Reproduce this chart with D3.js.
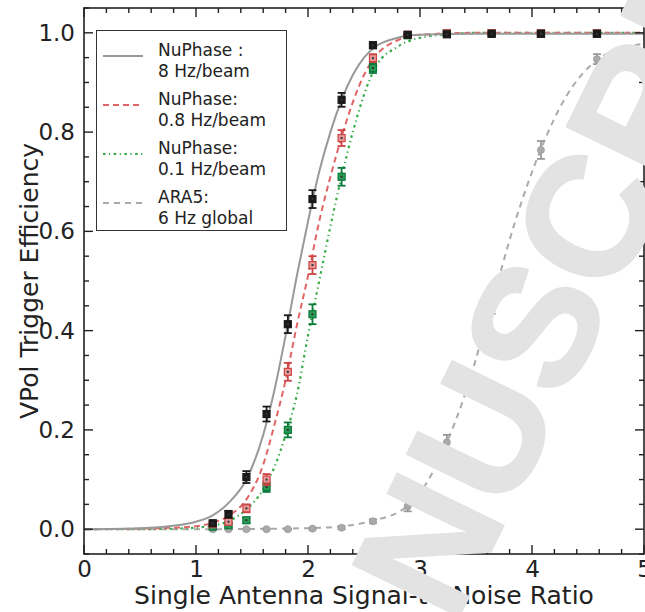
<!DOCTYPE html>
<html>
<head>
<meta charset="utf-8">
<script src="https://cdn.jsdelivr.net/npm/d3@7"></script>
<style>
  html, body { margin: 0; padding: 0; background: #fff; }
  svg { display: block; font-family: "DejaVu Sans", sans-serif; }
</style>
</head>
<body>
<svg id="chart" width="645" height="612"></svg>
<script>
// ---------- data ----------
const snr = [1.15, 1.29, 1.45, 1.63, 1.82, 2.04, 2.30, 2.58, 2.89, 3.24, 3.64, 4.08, 4.58];

const eff8Hz   = [0.012, 0.030, 0.105, 0.232, 0.413, 0.665, 0.865, 0.975, 0.996, 0.997, 0.998, 0.998, 0.998];
const err8Hz   = [0.004, 0.007, 0.012, 0.015, 0.018, 0.018, 0.014, 0.006, 0.002, 0.002, 0.002, 0.002, 0.002];
const eff08Hz  = [0.010, 0.015, 0.042, 0.100, 0.317, 0.532, 0.788, 0.949, 0.996, 0.999, 0.999, 0.999, 0.999];
const err08Hz  = [0.004, 0.005, 0.008, 0.011, 0.018, 0.018, 0.016, 0.008, 0.002, 0.002, 0.002, 0.002, 0.002];
const eff01Hz  = [0.005, 0.008, 0.018, 0.085, 0.200, 0.433, 0.710, 0.929, 0.995, 0.999, 0.999, 0.999, 0.999];
const err01Hz  = [0.003, 0.004, 0.005, 0.010, 0.015, 0.020, 0.018, 0.010, 0.003, 0.002, 0.002, 0.002, 0.002];
const effARA5  = [0.000, 0.000, 0.000, 0.000, 0.000, 0.001, 0.003, 0.016, 0.046, 0.175, 0.452, 0.764, 0.947];
const errARA5  = [0.001, 0.001, 0.001, 0.001, 0.001, 0.002, 0.003, 0.004, 0.010, 0.015, 0.018, 0.018, 0.010];

// fitted curves
const curveX8Hz  = [0, 0.5, 0.8, 1.0, 1.15, 1.3, 1.45, 1.6, 1.7, 1.8, 1.9, 2.0, 2.1, 2.2, 2.3, 2.4, 2.5, 2.6, 2.8, 3.0, 3.5, 5.0];
const curveY8Hz  = [0, 0.002, 0.007, 0.015, 0.028, 0.055, 0.100, 0.190, 0.280, 0.390, 0.510, 0.620, 0.720, 0.800, 0.865, 0.915, 0.950, 0.972, 0.990, 0.996, 0.998, 0.998];
const curveX08Hz = [0, 0.5, 0.8, 1.0, 1.15, 1.3, 1.45, 1.6, 1.7, 1.8, 1.9, 2.0, 2.1, 2.2, 2.3, 2.4, 2.5, 2.6, 2.8, 3.0, 3.5, 5.0];
const curveY08Hz = [0, 0.001, 0.003, 0.006, 0.013, 0.028, 0.060, 0.130, 0.210, 0.300, 0.410, 0.510, 0.620, 0.710, 0.790, 0.860, 0.915, 0.952, 0.985, 0.996, 1.000, 1.000];
const curveX01Hz = [0, 0.5, 0.8, 1.0, 1.15, 1.3, 1.45, 1.6, 1.7, 1.8, 1.9, 2.0, 2.1, 2.2, 2.3, 2.4, 2.5, 2.6, 2.8, 3.0, 3.3, 3.5, 5.0];
const curveY01Hz = [0, 0.000, 0.001, 0.003, 0.007, 0.017, 0.040, 0.080, 0.125, 0.190, 0.270, 0.390, 0.500, 0.610, 0.710, 0.800, 0.875, 0.930, 0.972, 0.990, 0.998, 1.000, 1.000];
const curveXARA5 = [0, 1.0, 2.0, 2.3, 2.58, 2.89, 3.05, 3.24, 3.4, 3.64, 3.85, 4.08, 4.3, 4.58, 4.8, 5.0];
const curveYARA5 = [0, 0.000, 0.002, 0.006, 0.017, 0.047, 0.090, 0.175, 0.270, 0.455, 0.620, 0.766, 0.870, 0.945, 0.968, 0.978];

const legendLabels = [["NuPhase :", "8 Hz/beam"], ["NuPhase:", "0.8 Hz/beam"], ["NuPhase:", "0.1 Hz/beam"], ["ARA5:", "6 Hz global"]];
const xTickLabels = [0, 1, 2, 3, 4, 5];
const yTickLabels = [0.0, 0.2, 0.4, 0.6, 0.8, 1.0];
const xTitle = "Single Antenna Signal-to-Noise Ratio";
const yTitle = "VPol Trigger Efficiency";
const watermark = "ACCEPTED MANUSCRIPT";

// ---------- layout ----------
const svg = d3.select("#chart");
const L = 84, R = 644, T = 8, B = 554;
const x = d3.scaleLinear().domain([0, 5]).range([L, R]);
const y = d3.scaleLinear().domain([-0.05, 1.05]).range([B, T]);

// series
const series = [
  {xs: snr, ys: eff8Hz, es: err8Hz, cx: curveX8Hz, cy: curveY8Hz, line: "#999999", dash: null, lw: 2, mk: "#1a1a1a", shape: "square", fill: "#1a1a1a"},
  {xs: snr, ys: eff08Hz, es: err08Hz, cx: curveX08Hz, cy: curveY08Hz, line: "#e06666", dash: "6,4", lw: 2, mk: "#cc4444", shape: "square", fill: "#e89a9a"},
  {xs: snr, ys: eff01Hz, es: err01Hz, cx: curveX01Hz, cy: curveY01Hz, line: "#33aa44", dash: "2.5,3.5,1.2,3.5", lw: 2.2, mk: "#0a7a3a", shape: "square", fill: "#2a9a55"},
  {xs: snr, ys: effARA5, es: errARA5, cx: curveXARA5, cy: curveYARA5, line: "#aaaaaa", dash: "6,5", lw: 2, mk: "#999999", shape: "circle", fill: "#aaaaaa"}
];

const lineGen = d3.line().curve(d3.curveMonotoneX).x(d => x(d[0])).y(d => y(d[1]));
const plot = svg.append("g");

[3, 2, 1, 0].forEach(i => {
  const s = series[i];
  plot.append("path")
    .datum(d3.zip(s.cx, s.cy))
    .attr("d", lineGen)
    .attr("fill", "none")
    .attr("stroke", s.line)
    .attr("stroke-width", s.lw)
    .attr("stroke-dasharray", s.dash);
});

[3, 2, 1, 0].forEach(i => {
  const s = series[i];
  const g = plot.append("g");
  const pts = d3.zip(s.xs, s.ys, s.es);
  pts.forEach(([px, py, pe]) => {
    const cxp = x(px), y1 = y(py + pe), y2 = y(py - pe);
    g.append("line").attr("x1", cxp).attr("x2", cxp).attr("y1", y1).attr("y2", y2)
      .attr("stroke", s.mk).attr("stroke-width", 1.8);
    [y1, y2].forEach(yy => g.append("line").attr("x1", cxp - 4).attr("x2", cxp + 4).attr("y1", yy).attr("y2", yy)
      .attr("stroke", s.mk).attr("stroke-width", 1.8));
    if (s.shape === "circle") {
      g.append("circle").attr("cx", cxp).attr("cy", y(py)).attr("r", 3.5).attr("fill", s.fill).attr("stroke", s.mk).attr("stroke-width", 0.8);
    } else {
      g.append("rect").attr("x", cxp - 3.5).attr("y", y(py) - 3.5).attr("width", 7).attr("height", 7)
        .attr("fill", s.fill).attr("stroke", s.mk).attr("stroke-width", 1.2);
      g.append("rect").attr("x", cxp - 1).attr("y", y(py) - 1).attr("width", 2).attr("height", 2).attr("fill", "#333");
    }
  });
});

// ---------- axes ----------
const axisColor = "#222";
const frame = svg.append("g");
frame.append("rect").attr("x", L).attr("y", T).attr("width", R - L).attr("height", B - T)
  .attr("fill", "none").attr("stroke", axisColor).attr("stroke-width", 1.6);

const xMinor = d3.range(0, 5.001, 0.2);
const yMinor = d3.range(-0.05, 1.0501, 0.05);
function tickLen(isMajor) { return isMajor ? 9 : 5; }
xMinor.forEach(v => {
  const major = Math.abs(v - Math.round(v)) < 1e-6;
  const len = tickLen(major);
  frame.append("line").attr("x1", x(v)).attr("x2", x(v)).attr("y1", B).attr("y2", B - len).attr("stroke", axisColor).attr("stroke-width", 1.4);
  frame.append("line").attr("x1", x(v)).attr("x2", x(v)).attr("y1", T).attr("y2", T + len).attr("stroke", axisColor).attr("stroke-width", 1.4);
});
yMinor.forEach(v => {
  const major = Math.abs(v * 5 - Math.round(v * 5)) < 1e-6;
  const len = tickLen(major);
  frame.append("line").attr("y1", y(v)).attr("y2", y(v)).attr("x1", L).attr("x2", L + len).attr("stroke", axisColor).attr("stroke-width", 1.4);
  frame.append("line").attr("y1", y(v)).attr("y2", y(v)).attr("x1", R).attr("x2", R - len).attr("stroke", axisColor).attr("stroke-width", 1.4);
});

const xAxis = d3.axisBottom(x).tickValues(xTickLabels).tickSize(0).tickPadding(7).tickFormat(d3.format("d"));
const gx = svg.append("g").attr("transform", `translate(0,${B})`).call(xAxis);
gx.select(".domain").remove();
gx.selectAll("text").attr("font-size", 23).attr("fill", "#222").attr("font-family", "DejaVu Sans").attr("dy", "0.71em");

const yAxis = d3.axisLeft(y).tickValues(yTickLabels).tickSize(0).tickPadding(9).tickFormat(d3.format(".1f"));
const gy = svg.append("g").attr("transform", `translate(${L},0)`).call(yAxis);
gy.select(".domain").remove();
gy.selectAll("text").attr("font-size", 23).attr("fill", "#222").attr("font-family", "DejaVu Sans");

svg.append("text").attr("x", (L + R) / 2).attr("y", 604).attr("text-anchor", "middle")
  .attr("font-size", 25).attr("fill", "#222").text(xTitle);
svg.append("text").attr("transform", `translate(38,${(T + B) / 2}) rotate(-90)`).attr("text-anchor", "middle")
  .attr("font-size", 25).attr("fill", "#222").text(yTitle);

// ---------- legend ----------
const lg = svg.append("g");
lg.append("rect").attr("x", 96.5).attr("y", 30.5).attr("width", 190).attr("height", 200)
  .attr("fill", "#fff").attr("stroke", "#333").attr("stroke-width", 1);
legendLabels.forEach((lab, i) => {
  const s = series[i];
  const base = 50 + i * 49;
  lg.append("line").attr("x1", 103).attr("x2", 143).attr("y1", base + 6).attr("y2", base + 6)
    .attr("stroke", s.line).attr("stroke-width", s.lw).attr("stroke-dasharray", s.dash);
  lab.forEach((t, j) => {
    lg.append("text").attr("x", 158).attr("y", base + j * 21.5).attr("dy", "0.35em")
      .attr("font-size", 17).attr("fill", "#222").text(t);
  });
});

// ---------- watermark (drawn on top, as in the reference) ----------
const wmSize = 172;
const wm = svg.append("text")
  .attr("font-family", "Liberation Sans, Arial, sans-serif")
  .attr("font-weight", "bold")
  .attr("font-size", wmSize)
  .attr("fill", "#e3e3e3")
  .attr("stroke", "#e3e3e3")
  .attr("stroke-width", 2)
  .attr("stroke-linejoin", "round")
  .text(watermark);
const ext = wm.node().getExtentOfChar(13);
const lx = ext.x + ext.width / 2, ly = -0.358 * wmSize;
wm.attr("transform", `translate(533,325) rotate(-64) translate(${-lx},${-ly})`);
</script>
</body>
</html>
